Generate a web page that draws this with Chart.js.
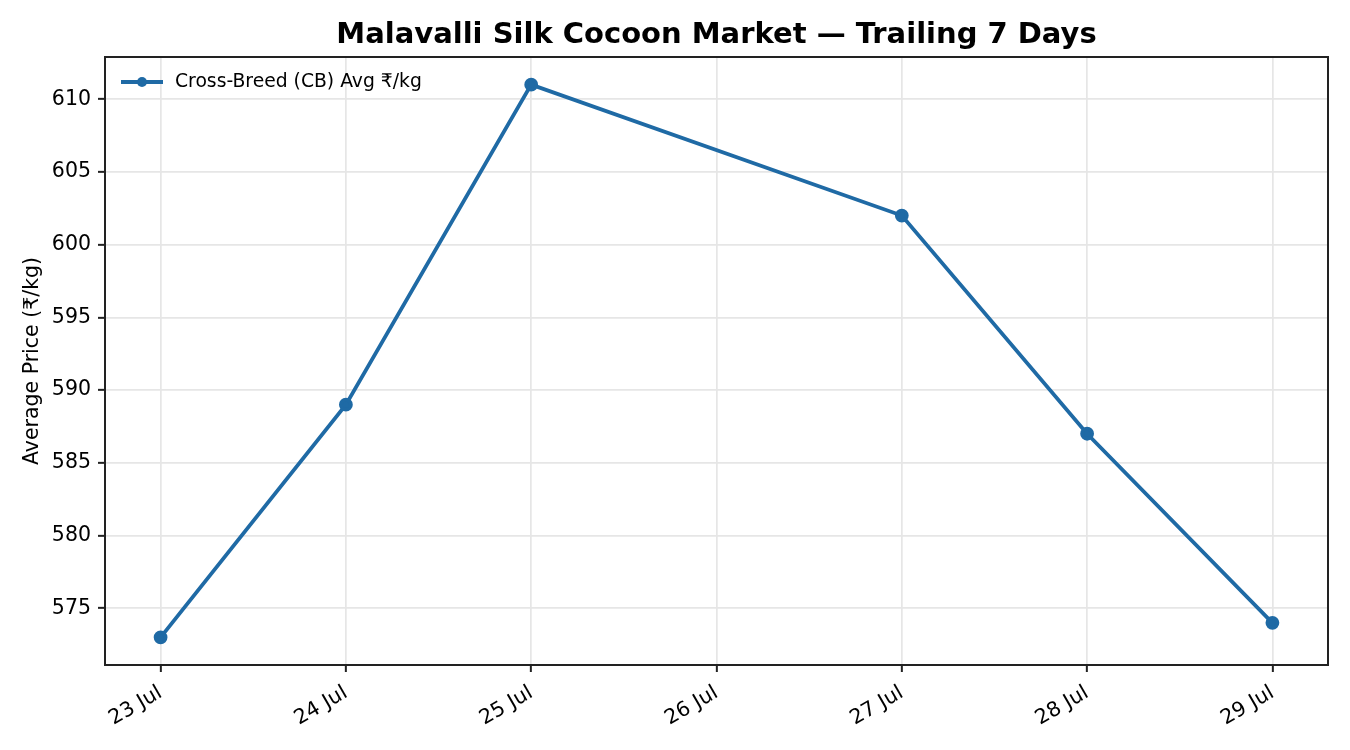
<!DOCTYPE html>
<html>
<head>
<meta charset="utf-8">
<script src="https://cdn.jsdelivr.net/npm/chart.js@4.4.1/dist/chart.umd.min.js"></script>
<style>
  html, body { margin: 0; padding: 0; background: #fff; }
  #wrap { width: 1350px; height: 750px; }
</style>
</head>
<body>
<div id="wrap"><canvas id="chart" width="1350" height="750"></canvas></div>
<script>
// données
const days = [23, 24, 25, 27, 28, 29];
const cbPrices = [573, 589, 611, 602, 587, 574];
const monthLabel = 'Jul';
const seriesName = 'Cross-Breed (CB) Avg ₹/kg';
const chartTitle = 'Malavalli Silk Cocoon Market — Trailing 7 Days';
const yTitle = 'Average Price (₹/kg)';

const blue = '#1f6aa5';
const font = 'DejaVu Sans';

// titre + cadre + légende dessinés à la main
const extras = {
  id: 'extras',
  afterDraw(chart) {
    const { ctx, chartArea: a } = chart;
    ctx.save();
    ctx.strokeStyle = '#222';
    ctx.lineWidth = 2;
    ctx.strokeRect(a.left, a.top, a.right - a.left, a.bottom - a.top);

    ctx.fillStyle = '#000';
    ctx.font = 'bold 29px "' + font + '"';
    ctx.textAlign = 'center';
    ctx.textBaseline = 'middle';
    ctx.fillText(chartTitle, (a.left + a.right) / 2, 35);

    // légende
    const lx = a.left + 16, ly = a.top + 25;
    ctx.strokeStyle = blue;
    ctx.lineWidth = 3.8;
    ctx.beginPath();
    ctx.moveTo(lx, ly);
    ctx.lineTo(lx + 42, ly);
    ctx.stroke();
    ctx.fillStyle = blue;
    ctx.beginPath();
    ctx.arc(lx + 21, ly, 5, 0, Math.PI * 2);
    ctx.fill();
    ctx.fillStyle = '#000';
    ctx.font = '18.75px "' + font + '"';
    ctx.textAlign = 'left';
    ctx.fillText(seriesName, lx + 54, ly);
    ctx.restore();
  }
};

const ctx = document.getElementById('chart');
const chart = new Chart(ctx, {
  type: 'line',
  data: {
    datasets: [{
      label: seriesName,
      data: days.map((d, i) => ({ x: d, y: cbPrices[i] })),
      borderColor: blue,
      backgroundColor: blue,
      borderWidth: 3.8,
      pointRadius: 5,
      pointHoverRadius: 5,
      tension: 0
    }]
  },
  options: {
    responsive: false,
    animation: false,
    layout: { padding: { top: 57, right: 22, left: 0, bottom: 0 } },
    plugins: {
      legend: { display: false },
      title: { display: false },
      tooltip: { enabled: false }
    },
    scales: {
      x: {
        type: 'linear',
        min: 22.7,
        max: 29.3,
        afterFit: s => { s.height = 85; },
        ticks: {
          stepSize: 1,
          includeBounds: false,
          minRotation: 30,
          maxRotation: 30,
          color: '#000',
          padding: 9,
          font: { family: font, size: 20.5 },
          callback: v => v + ' ' + monthLabel
        },
        grid: { color: '#e6e6e6', lineWidth: 1.7, tickColor: '#222', tickWidth: 2, tickLength: 7 },
        border: { display: false }
      },
      y: {
        min: 571.1,
        max: 612.9,
        afterFit: s => { s.width = 105; },
        ticks: {
          stepSize: 5,
          includeBounds: false,
          color: '#000',
          font: { family: font, size: 20.5 },
          padding: 7
        },
        title: {
          display: true,
          text: yTitle,
          color: '#000',
          font: { family: font, size: 20.5 },
          padding: { top: 20, bottom: 4 }
        },
        grid: { color: '#e6e6e6', lineWidth: 1.7, tickColor: '#222', tickWidth: 2, tickLength: 7 },
        border: { display: false }
      }
    }
  },
  plugins: [extras]
});
</script>
</body>
</html>
